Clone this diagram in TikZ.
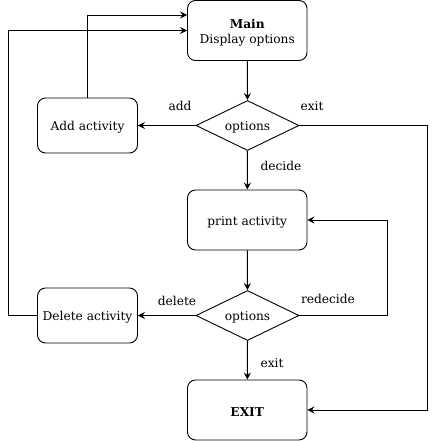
\documentclass[tikz,border=0pt]{standalone}
\usepackage{fontspec}
\setmainfont{DejaVu Serif}
\usetikzlibrary{shapes.geometric,arrows.meta}
\newcommand{\dn}[1]{\raisebox{-2pt}[\height][\depth]{#1}}
\begin{document}
\begin{tikzpicture}[x=1pt,y=-1pt,
  fnt/.style={font=\fontsize{12.2}{14.5}\selectfont},
  box/.style={draw,rounded corners=8pt,minimum width=119.5pt,minimum height=60pt,line width=0.9pt,fnt,align=center,inner sep=0pt},
  sbox/.style={draw,rounded corners=8pt,minimum width=100pt,minimum height=55pt,line width=0.9pt,fnt,inner sep=0pt},
  dia/.style={draw,diamond,aspect=2.06,minimum width=103pt,minimum height=50pt,inner sep=0pt,line width=0.9pt,fnt},
  arr/.style={-{Stealth[length=7pt,width=7pt,inset=2.5pt]},line width=0.9pt},
  lbl/.style={fnt}]
\useasboundingbox (0,0) rectangle (436,441);
\node[box] (main) at (247.25,30.5) {\dn{\textbf{Main}}\\\dn{Display options}};
\node[dia] (d1) at (247.5,125.5) {\dn{options}};
\node[sbox] (add) at (87.5,125.5) {\dn{Add activity}};
\node[box] (print) at (247.25,220) {\dn{print activity}};
\node[dia] (d2) at (247.5,315.5) {\dn{options}};
\node[sbox] (del) at (87.5,315.5) {\dn{Delete activity}};
\node[box] (exit) at (247.25,410) {\dn{\textbf{EXIT}}};
\coordinate (c1) at (427,125.5);
\coordinate (c2) at (427,410);
\coordinate (c3) at (387,315.5);
\coordinate (c4) at (387,220);
\coordinate (c5) at (8,315.5);
\coordinate (c6) at (8,30.5);
\coordinate (c7) at (88,15);
\draw[arr] (main) -- (d1);
\draw[arr] (d1) -- (add);
\draw[arr] (d1) -- (print);
\draw[arr] (print) -- (d2);
\draw[arr] (d2) -- (del);
\draw[arr] (d2) -- (exit);
\draw[arr] (d1.east) -- (c1) -- (c2) -- (exit.east);
\draw[arr] (d2.east) -- (c3) -- (c4) -- (print.east);
\draw[arr] (del.west) -- (c5) -- (c6) -- (main.west |- c6);
\draw[arr] (add.north) -- (add.north |- c7) -- (main.west |- c7);
\node[lbl] (l1) at (180,106) {add};
\node[lbl] (l2) at (312,106) {exit};
\node[lbl] (l3) at (281,166) {decide};
\node[lbl] (l4) at (177,301) {delete};
\node[lbl] (l5) at (328,299) {redecide};
\node[lbl] (l6) at (272,363) {exit};
\end{tikzpicture}
\end{document}
